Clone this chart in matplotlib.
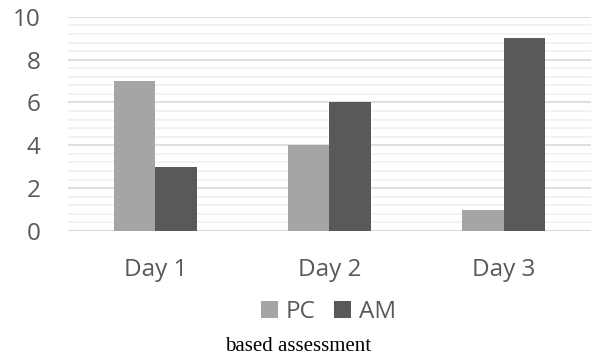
import matplotlib
matplotlib.use("Agg")
import matplotlib.pyplot as plt
import numpy as np

categories = ["Day 1", "Day 2", "Day 3"]
pc = [7, 4, 1]
am = [3, 6, 9]
yticks = [0, 2, 4, 6, 8, 10]

fig = plt.figure(figsize=(5.92, 3.58), dpi=100)
ax = fig.add_axes([0.115, 0.355, 0.883, 0.598])
x = np.arange(len(categories))
w = 0.238
ax.bar(x - w/2, pc, w, color="#a5a5a5", label="PC", zorder=3)
ax.bar(x + w/2, am, w, color="#595959", label="AM", zorder=3)

ax.set_xlim(-0.5, 2.5)
ax.set_ylim(0, 10)
ax.set_yticks(yticks)
ax.set_yticks(np.arange(0, 10.01, 0.4), minor=True)
ax.yaxis.grid(True, which="minor", color="#f0f0f0", linewidth=1.2, zorder=0)
ax.yaxis.grid(True, which="major", color="#d9d9d9", linewidth=1.2, zorder=1)
ax.tick_params(axis="both", which="both", length=0)
ax.tick_params(axis="y", pad=20, labelsize=17.5, labelcolor="#595959")
ax.tick_params(axis="x", pad=19.5, labelsize=17.5, labelcolor="#595959")
ax.set_xticks(x)
ax.set_xticklabels(categories)
for t in ax.get_xticklabels() + ax.get_yticklabels():
    t.set_fontfamily("Open Sans")
for s in ax.spines.values():
    s.set_visible(False)
ax.axhline(0, color="#d9d9d9", linewidth=1.5, zorder=2)

leg = fig.legend(loc="center", bbox_to_anchor=(0.555, 0.128), ncol=2, frameon=False,
                 prop={"family": "Open Sans", "size": 17.5}, handlelength=0.68, handleheight=0.68,
                 handletextpad=0.34, columnspacing=0.75)
for t in leg.get_texts():
    t.set_color("#595959")

fig.text(0.503, 0.033, "based assessment", family="Liberation Serif", fontsize=15,
         color="black", ha="center", va="center")
fig.savefig("out.png", dpi=100)
